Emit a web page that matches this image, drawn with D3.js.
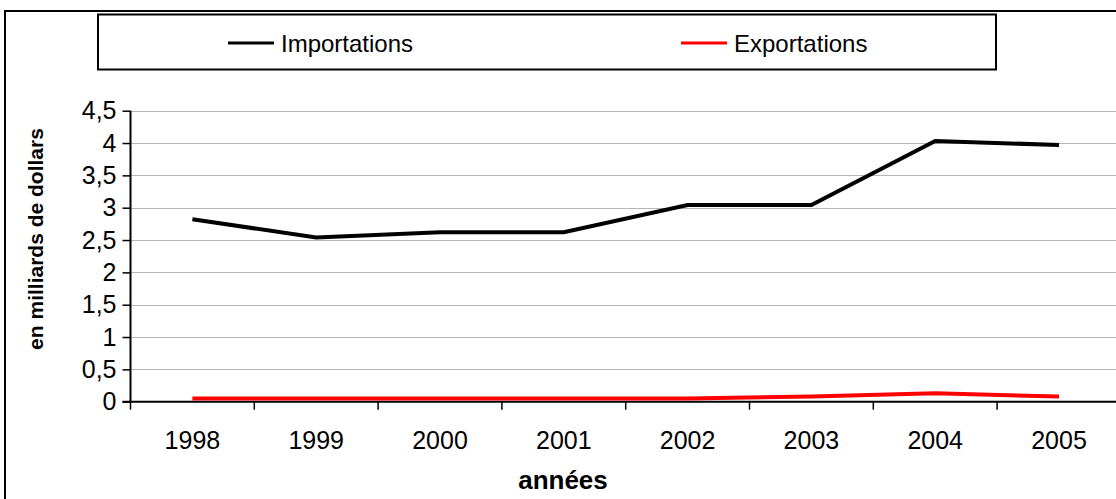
<!DOCTYPE html>
<html>
<head>
<meta charset="utf-8">
<script src="https://cdn.jsdelivr.net/npm/d3@7"></script>
<style>
  body { margin: 0; background: #fff; }
  svg { display: block; font-family: Arial, "Liberation Sans", sans-serif; }
</style>
</head>
<body>
<div id="chart"></div>
<script>
// Data (billions of dollars)
const years = ["1998", "1999", "2000", "2001", "2002", "2003", "2004", "2005"];
const importations = [2.82, 2.54, 2.62, 2.62, 3.04, 3.04, 4.03, 3.97];
const exportations = [0.05, 0.05, 0.05, 0.05, 0.05, 0.08, 0.13, 0.08];
const yTicks = [0, 0.5, 1, 1.5, 2, 2.5, 3, 3.5, 4, 4.5];
const seriesNames = ["Importations", "Exportations"];
const seriesColors = ["#000000", "#ff0000"];

const width = 1116, height = 499;

const svg = d3.select("#chart").append("svg")
    .attr("width", width)
    .attr("height", height);

// outer chart border (runs past the right and bottom edge)
svg.append("rect")
    .attr("x", 5).attr("y", 11)
    .attr("width", 1130).attr("height", 520)
    .attr("fill", "none")
    .attr("stroke", "#000")
    .attr("stroke-width", 2);

// scales
const xScale = d3.scaleBand()
    .domain(years)
    .range([130.5, 130.5 + 8 * 123.8]);

const yScale = d3.scaleLinear()
    .domain([0, 4.5])
    .range([401.7, 110.7]);

const fmt = d => String(d).replace(".", ",");

// dotted gridlines
svg.append("g")
    .selectAll("line")
    .data(yTicks.filter(d => d > 0))
    .join("line")
    .attr("x1", xScale.range()[0])
    .attr("x2", xScale.range()[1])
    .attr("y1", d => Math.round(yScale(d)) + 0.5)
    .attr("y2", d => Math.round(yScale(d)) + 0.5)
    .attr("stroke", "#6e6e6e")
    .attr("stroke-width", 1)
    .attr("stroke-dasharray", "1,1");

// y axis
const yAxis = svg.append("g")
    .attr("transform", `translate(${xScale.range()[0]},0)`)
    .call(d3.axisLeft(yScale).tickValues(yTicks).tickFormat(fmt).tickSize(8).tickPadding(6));
yAxis.select(".domain").attr("stroke-width", 2).attr("d", `M0,${yScale(4.5)}V${yScale(0)}`);
yAxis.selectAll(".tick line").attr("stroke-width", 1.5);
yAxis.selectAll(".tick text")
    .style("font-size", "25px")
    .style("font-family", "Arial, 'Liberation Sans', sans-serif")
    .attr("fill", "#000");

// x axis: ticks sit on category boundaries
const xAxis = svg.append("g")
    .attr("transform", `translate(0,${yScale(0)})`);
xAxis.append("line")
    .attr("x1", xScale.range()[0] - 8)
    .attr("x2", xScale.range()[1])
    .attr("stroke", "#000")
    .attr("stroke-width", 2);
xAxis.selectAll(".tk")
    .data(d3.range(years.length + 1))
    .join("line")
    .attr("class", "tk")
    .attr("x1", i => xScale.range()[0] + i * xScale.step())
    .attr("x2", i => xScale.range()[0] + i * xScale.step())
    .attr("y1", 0).attr("y2", 8)
    .attr("stroke", "#000")
    .attr("stroke-width", 1.5);
xAxis.selectAll(".lbl")
    .data(years)
    .join("text")
    .attr("class", "lbl")
    .attr("x", d => xScale(d) + xScale.bandwidth() / 2)
    .attr("y", 47)
    .attr("text-anchor", "middle")
    .style("font-size", "25px")
    .text(d => d);

// lines
const line = d3.line()
    .x((d, i) => xScale(years[i]) + xScale.bandwidth() / 2)
    .y(d => yScale(d));

[importations, exportations].forEach((values, k) => {
    svg.append("path")
        .datum(values)
        .attr("d", line)
        .attr("fill", "none")
        .attr("stroke", seriesColors[k])
        .attr("stroke-width", 4)
        .attr("stroke-linejoin", "miter");
});

// axis titles
svg.append("text")
    .attr("transform", "translate(43,239) rotate(-90)")
    .attr("text-anchor", "middle")
    .style("font-size", "21px")
    .style("font-weight", "bold")
    .text("en milliards de dollars");

svg.append("text")
    .attr("x", 563)
    .attr("y", 489)
    .attr("text-anchor", "middle")
    .style("font-size", "26px")
    .style("font-weight", "bold")
    .text("années");

// legend
const legend = svg.append("g");
legend.append("rect")
    .attr("x", 98).attr("y", 14.5)
    .attr("width", 898).attr("height", 55)
    .attr("fill", "#fff")
    .attr("stroke", "#000")
    .attr("stroke-width", 2);

const legendX = [228, 681];
seriesNames.forEach((name, k) => {
    legend.append("line")
        .attr("x1", legendX[k]).attr("x2", legendX[k] + 46)
        .attr("y1", 43).attr("y2", 43)
        .attr("stroke", seriesColors[k])
        .attr("stroke-width", 3);
    legend.append("text")
        .attr("x", legendX[k] + 53)
        .attr("y", 52)
        .style("font-size", "24px")
        .text(name);
});
</script>
</body>
</html>
